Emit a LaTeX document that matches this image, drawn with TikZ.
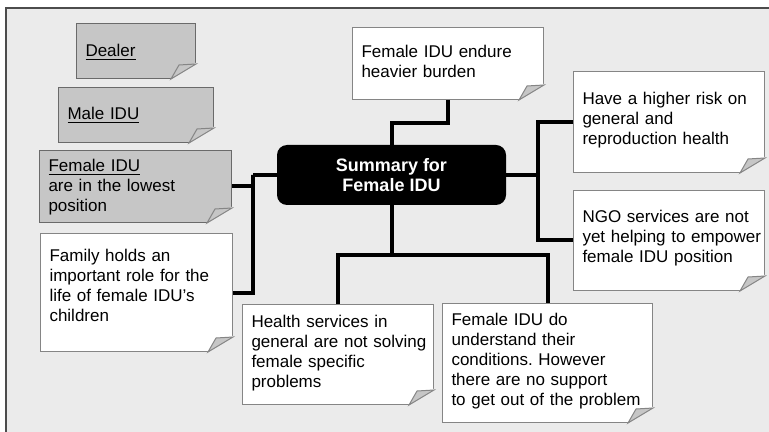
\documentclass[tikz,border=0pt]{standalone}
\usepackage{fontspec}
\setmainfont{Liberation Sans}
\usetikzlibrary{positioning}

\definecolor{bgc}{HTML}{EBEBEB}
\definecolor{notegrey}{HTML}{C6C6C6}
\definecolor{edgegrey}{HTML}{858585}

\begin{document}
\begin{tikzpicture}[x=0.5pt, y=-0.5pt,
  note/.style={draw=edgegrey, fill=white, line width=0.5pt, anchor=north west,
    inner xsep=4.5pt, inner ysep=0pt, align=left,
    font=\fontsize{8.5}{10}\selectfont\frenchspacing},
  greynote/.style={note, fill=notegrey, draw=edgegrey!80!black},
  hub/.style={fill=black, rounded corners=5pt, text=white, align=center, inner sep=0pt,
    minimum width=114.5pt, minimum height=30pt, font=\fontsize{9}{10}\selectfont\bfseries},
  link/.style={line width=2pt, black}]
  \useasboundingbox (0,0) rectangle (769,432);

  % frame
  \fill[bgc] (5,8) rectangle (769,432);
  \draw[line width=1pt, black!70] (5.5,432) -- (5.5,8.5) -- (769,8.5);

  % grey notes
  \node[greynote, text width=50.5pt, text height=16.5pt, text depth=11pt] (dealer) at (76,23) {\underline{Dealer}};
  \node[greynote, text width=68.5pt, text height=16pt, text depth=11.5pt] (male) at (58,87) {\underline{Male IDU}};
  \node[greynote, text width=87pt, text height=10.5pt, text depth=25.5pt] (low) at (39,150)
    {\underline{Female IDU}\\are in the lowest\\position};

  % white notes
  \node[note, text width=87pt, text height=14pt, text depth=45pt] (fam) at (40,233)
    {Family holds an\\important role for the\\life of female IDU’s\\children};
  \node[note, text width=86.5pt, text height=15pt, text depth=21pt] (burden) at (352,27)
    {Female IDU endure\\heavier burden};
  \node[note, text width=86.5pt, text height=16.5pt, text depth=34pt] (risk) at (573,71)
    {Have a higher risk on\\general and\\reproduction health};
  \node[note, text width=86.5pt, text height=16pt, text depth=34pt] (ngo) at (573,190)
    {NGO services are not\\\mbox{yet helping to empower}\\female IDU position};
  \node[note, text width=86.5pt, text height=11.5pt, text depth=38.5pt] (health) at (242,304)
    {Health services in\\\mbox{general are not solving}\\female specific\\problems};
  \node[note, text width=96pt, text height=11pt, text depth=48.5pt] (supp) at (442,303)
    {Female IDU do\\understand their\\conditions. However\\there are no support\\\mbox{to get out of the problem}};

  % centre
  \node[hub] (sum) at (391.5,175) {Summary for\\Female IDU};

  % links
  \draw[link] (burden.south) -- ++(0,23) -| (sum.north);
  \draw[link] (sum.east) -- ++(32,0) coordinate (rj);
  \draw[link] (risk.west) -| (rj) |- (ngo.west);
  \draw[link] (sum.west) -- ++(-24,0) coordinate (lj);
  \draw[link] (low.east) -| (lj) |- (fam.east);
  \draw[link] (sum.south) -- ++(0,50) coordinate (bj);
  \draw[link] (health.north) |- (bj) -| (supp.north);

  % folded corners
  \foreach \n in {dealer,male,low,fam,burden,risk,ngo,health,supp}{
    \fill[bgc] (\n.south east) ++(1,-17) -- ++(0,18) -- ++(-28,0) -- cycle;
    \filldraw[fill=gray!45, draw=edgegrey, line width=0.5pt]
      (\n.south east) ++(0,-15) -- ++(-17,1) -- ++(-8,14) -- cycle;
  }
\end{tikzpicture}
\end{document}
